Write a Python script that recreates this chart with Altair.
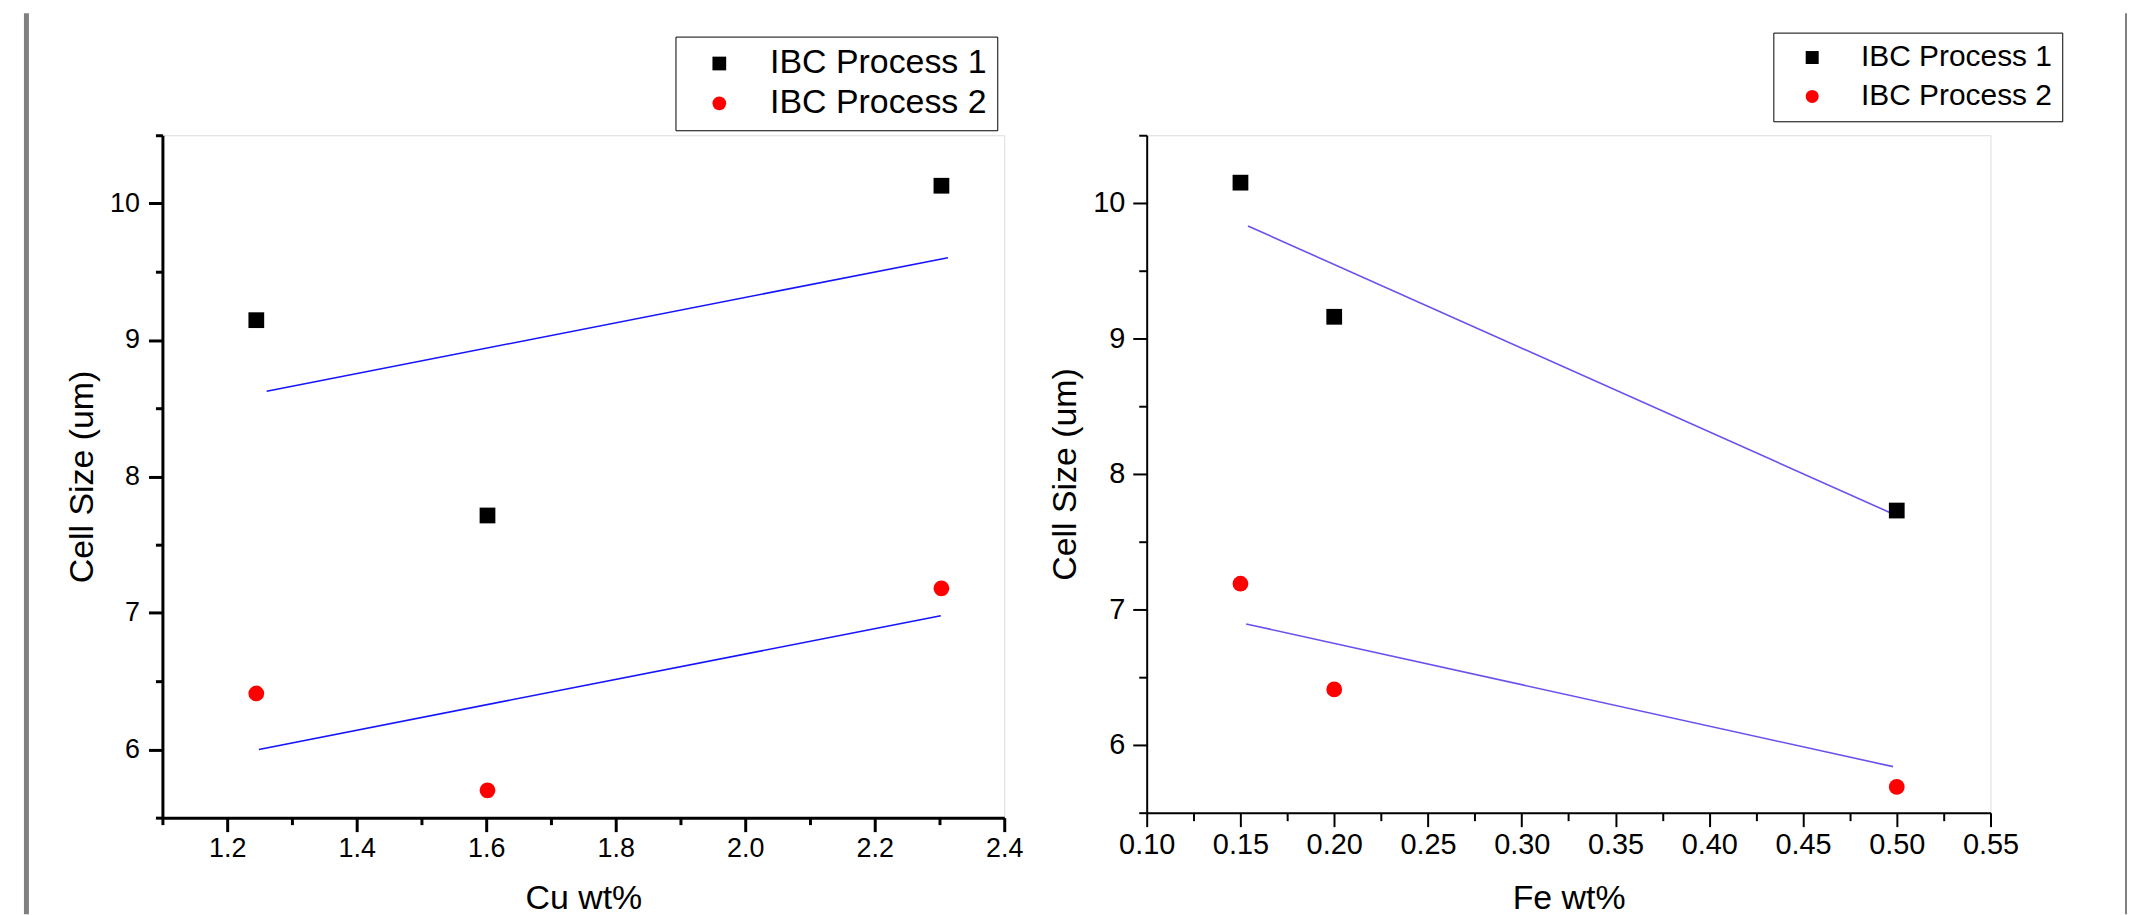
import altair as alt
import pandas as pd

series = ["IBC Process 1", "IBC Process 2"]

# Left panel: Cu wt%
cu_x = [1.245, 1.602, 2.303]
cu_p1 = [9.145, 7.714, 10.13]
cu_p2 = [6.41, 5.70, 7.18]
cu_fit_x1 = [1.261, 2.313]
cu_fit_y1 = [8.624, 9.603]
cu_fit_x2 = [1.249, 2.302]
cu_fit_y2 = [6.00, 6.98]

# Right panel: Fe wt%
fe_x = [0.15, 0.20, 0.50]
fe_p1 = [10.15, 9.16, 7.73]
fe_p2 = [7.19, 6.41, 5.69]
fe_fit_x1 = [0.154, 0.498]
fe_fit_y1 = [9.83, 7.705]
fe_fit_x2 = [0.153, 0.498]
fe_fit_y2 = [6.893, 5.84]

cu_ticks = [1.1, 1.2, 1.3, 1.4, 1.5, 1.6, 1.7, 1.8, 1.9, 2.0, 2.1, 2.2, 2.3, 2.4]
fe_ticks = [0.1, 0.125, 0.15, 0.175, 0.2, 0.225, 0.25, 0.275, 0.3, 0.325,
            0.35, 0.375, 0.4, 0.425, 0.45, 0.475, 0.5, 0.525, 0.55]
cell_ticks = [5.5, 6, 6.5, 7, 7.5, 8, 8.5, 9, 9.5, 10, 10.5]

FONT = "Liberation Sans"


def pts(xs, ys1, ys2):
    rows = []
    for x, y in zip(xs, ys1):
        rows.append({"x": x, "y": y, "series": series[0]})
    for x, y in zip(xs, ys2):
        rows.append({"x": x, "y": y, "series": series[1]})
    return pd.DataFrame(rows)


def fits(x1, y1, x2, y2):
    rows = []
    for x, y in zip(x1, y1):
        rows.append({"x": x, "y": y, "series": series[0]})
    for x, y in zip(x2, y2):
        rows.append({"x": x, "y": y, "series": series[1]})
    return pd.DataFrame(rows)


def make_axis(values, title, major_test, fmt, width, label_size, major, minor,
              title_pad, label_pad):
    return alt.Axis(
        values=values, title=title, grid=False,
        labelExpr=f"({major_test}) ? format(datum.value, '{fmt}') : ''",
        tickSize={"condition": {"test": major_test, "value": major}, "value": minor},
        domainWidth=width, tickWidth=width, domainColor="black", tickColor="black",
        labelFont=FONT, titleFont=FONT, labelFontSize=label_size, titleFontSize=34,
        titleFontWeight="normal", labelColor="black", titleColor="black",
        labelFlush=False, labelOverlap=False, titlePadding=title_pad,
        labelPadding=label_pad,
    )


def panel(df_pts, df_fit, xdom, xaxis, yaxis, line_color, legend, border_x,
          border_w, width, height):
    xs = alt.Scale(domain=xdom, nice=False, zero=False)
    ys = alt.Scale(domain=[5.5, 10.5], nice=False, zero=False)
    points = alt.Chart(df_pts).mark_point(filled=True, size=250, opacity=1).encode(
        x=alt.X("x:Q", scale=xs, axis=xaxis),
        y=alt.Y("y:Q", scale=ys, axis=yaxis),
        color=alt.Color("series:N", scale=alt.Scale(domain=series, range=["black", "#ff0000"]),
                        legend=legend),
        shape=alt.Shape("series:N", scale=alt.Scale(domain=series, range=["square", "circle"]),
                        legend=legend),
    )
    lines = alt.Chart(df_fit).mark_line(strokeWidth=1.6, color=line_color).encode(
        x=alt.X("x:Q", scale=xs, axis=xaxis),
        y=alt.Y("y:Q", scale=ys, axis=yaxis),
        detail="series:N",
    )
    border = alt.Chart(pd.DataFrame({"a": [0]})).mark_rule(
        color="#808080", strokeWidth=border_w).encode(
        x=alt.value(border_x), y=alt.value(-122.5), y2=alt.value(915 - 133),
    )
    return alt.layer(lines, points, border).properties(width=width, height=height)


left_x_axis = make_axis(cu_ticks, "Cu wt%", "abs(round(datum.value*10)) % 2 == 0", ".1f",
                        3, 27, 14, 7, 20, 4)
left_y_axis = make_axis(cell_ticks, "Cell Size (um)", "datum.value % 1 == 0", "d",
                        3, 27, 14, 7, 10, 9)
right_x_axis = make_axis(fe_ticks, "Fe wt%", "abs(round(datum.value*40)) % 2 == 0", ".2f",
                         2, 29, 14, 8, 22, 4)
right_y_axis = make_axis(cell_ticks, "Cell Size (um)", "datum.value % 1 == 0", "d",
                         2, 29, 14, 8, 10, 8)

left_legend = alt.Legend(orient="none", legendX=515, legendY=-99, title=None,
                         strokeColor="black", fillColor="white", padding=10,
                         labelFont=FONT, labelFontSize=34, labelColor="black",
                         labelLimit=600,
                         symbolSize=190, symbolOffset=17, labelOffset=34,
                         rowPadding=6, symbolStrokeWidth=0, symbolOpacity=1)
right_legend = alt.Legend(orient="none", legendX=629, legendY=-103, title=None,
                          strokeColor="black", fillColor="white", padding=10,
                          labelFont=FONT, labelFontSize=30, labelColor="black",
                          labelLimit=600,
                          symbolSize=170, symbolOffset=14, labelOffset=34,
                          rowPadding=9, symbolStrokeWidth=0, symbolOpacity=1)

left = panel(pts(cu_x, cu_p1, cu_p2), fits(cu_fit_x1, cu_fit_y1, cu_fit_x2, cu_fit_y2),
             [1.1, 2.4], left_x_axis, left_y_axis, "#1414ff", left_legend,
             -136.5, 5, 845, 685)
right = panel(pts(fe_x, fe_p1, fe_p2), fits(fe_fit_x1, fe_fit_y1, fe_fit_x2, fe_fit_y2),
              [0.1, 0.55], right_x_axis, right_y_axis, "#6b50f0", right_legend,
              983, 2, 847, 680)

chart = alt.hconcat(left, right, spacing=143, bounds="flush").resolve_scale(
    color="independent", shape="independent", x="independent", y="independent"
).resolve_legend(color="independent", shape="independent").properties(
    padding={"left": 15, "top": 0, "right": 0, "bottom": 0}
).configure_view(stroke="#333333", strokeWidth=1.5).configure(background="white")

chart.save("out.html", embed_options={"renderer": "svg", "actions": False})
